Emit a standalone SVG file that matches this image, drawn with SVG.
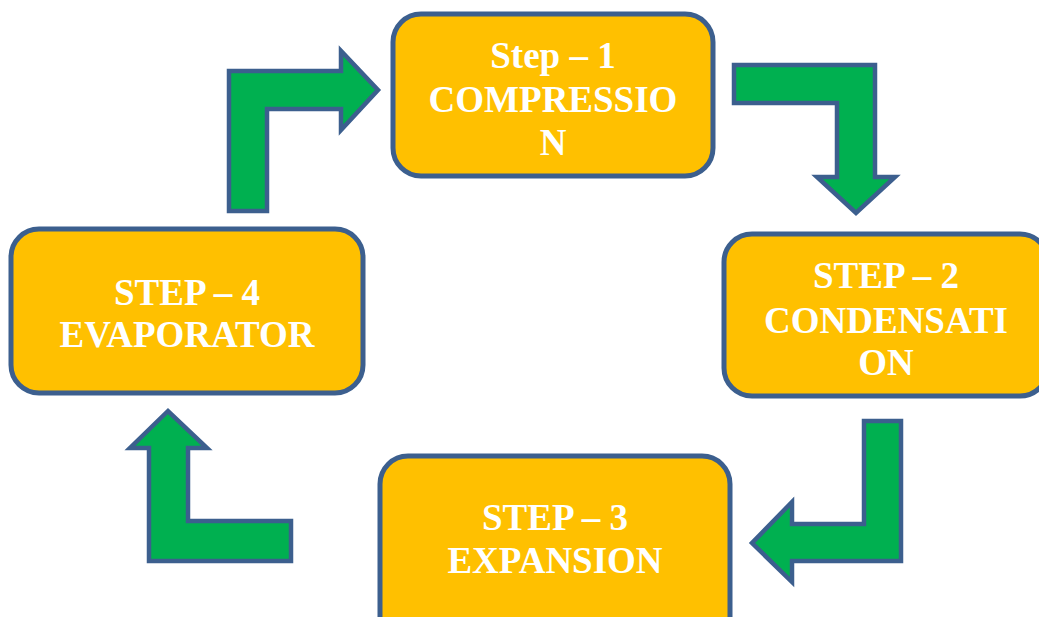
<svg xmlns="http://www.w3.org/2000/svg" width="1039" height="617" viewBox="0 0 1039 617">
<style>
.box{fill:#FFC000;stroke:#3C5F8E;stroke-width:5}
.arr{fill:#00B050;stroke:#3C5F8E;stroke-width:4.5;stroke-linejoin:miter}
.t{font-family:"Liberation Serif","Times New Roman",serif;font-weight:bold;font-size:37px;fill:#FFFFFF;text-anchor:middle}
</style>
<rect width="1039" height="617" fill="#FFFFFF"/>
<g id="connectors">
<path class="arr" d="M229,211 L229,71 L341,71 L341,51 L378,90 L341,130 L341,109 L267,109 L267,211 Z"/>
<path class="arr" d="M734,65 L875,65 L875,177 L895,177 L856,213 L817,177 L837,177 L837,103 L734,103 Z"/>
<path class="arr" d="M864,421 L901,421 L901,561 L792,561 L792,582 L752,543 L792,502 L792,524 L864,524 Z"/>
<path class="arr" d="M291,561 L149,561 L149,448 L130,448 L168,411 L207,448 L188,448 L188,521 L291,521 Z"/>
</g>
<g id="step1">
<rect class="box" x="393" y="14" width="320" height="162" rx="28"/>
<text class="t" x="553" y="68">Step – 1</text>
<text class="t" x="553" y="112">COMPRESSIO</text>
<text class="t" x="553" y="155">N</text>
</g>
<g id="step2">
<rect class="box" x="724" y="234" width="324" height="162" rx="28"/>
<text class="t" x="886" y="288">STEP – 2</text>
<text class="t" x="886" y="333">CONDENSATI</text>
<text class="t" x="886" y="375">ON</text>
</g>
<g id="step3">
<rect class="box" x="380" y="456" width="350" height="190" rx="28"/>
<text class="t" x="555" y="530">STEP – 3</text>
<text class="t" x="555" y="573">EXPANSION</text>
</g>
<g id="step4">
<rect class="box" x="11" y="229" width="352" height="164" rx="28"/>
<text class="t" x="187" y="305">STEP – 4</text>
<text class="t" x="187" y="347">EVAPORATOR</text>
</g>
</svg>
